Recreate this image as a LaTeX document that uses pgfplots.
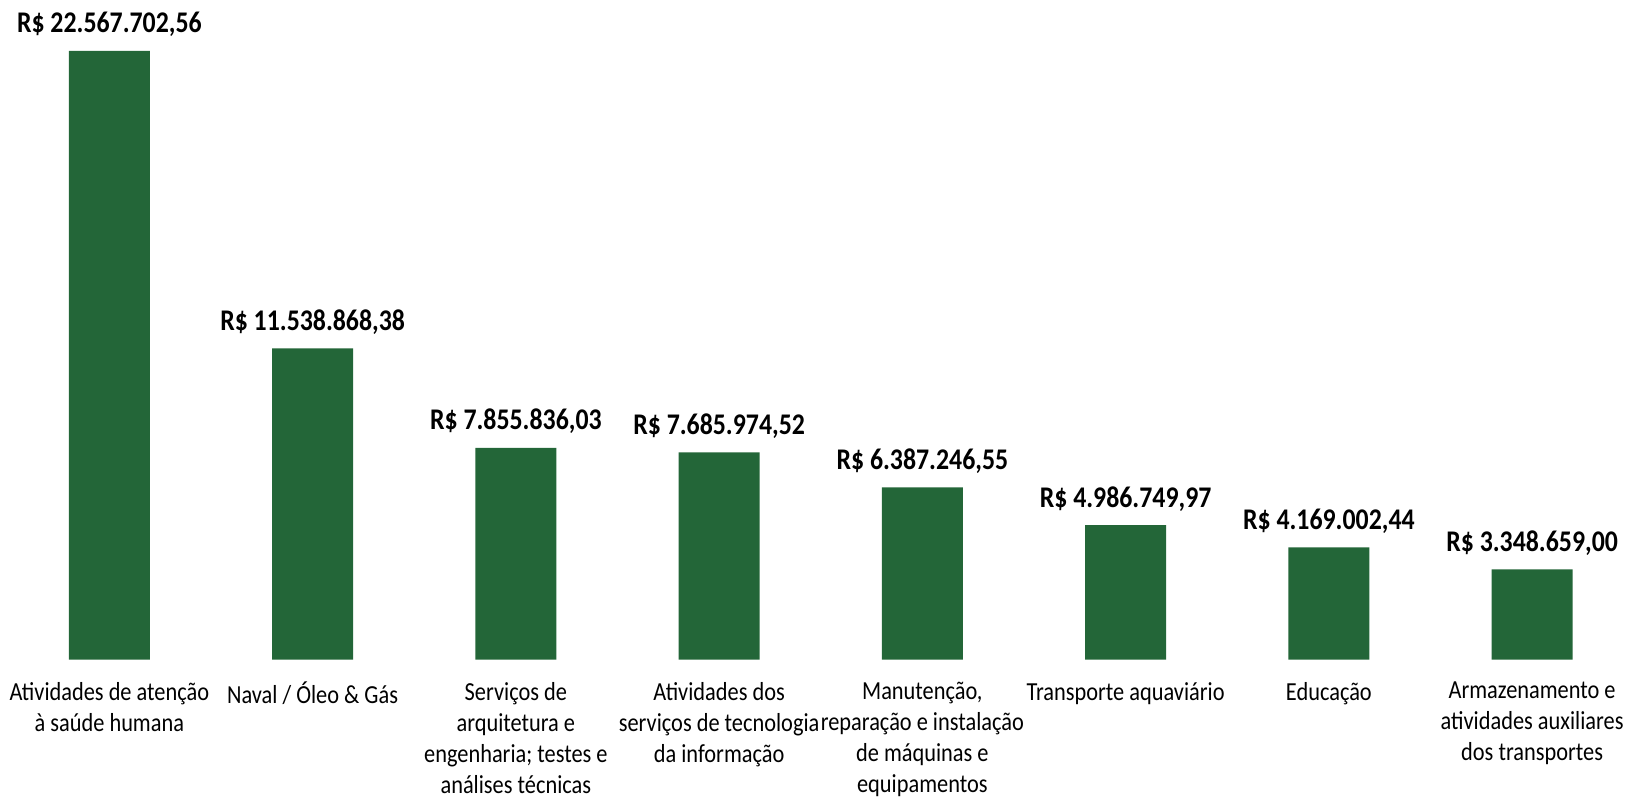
\documentclass[border=0pt]{standalone}
\usepackage{pgfplots}
\pgfplotsset{compat=1.18}
\usepackage{fontspec}
\setmainfont{Carlito}[FakeStretch=0.86]
\definecolor{barverde}{RGB}{35,102,56}

\begin{document}
\begin{tikzpicture}
\begin{axis}[
  width=813pt, height=329.75pt, scale only axis,
  xmin=-0.538, xmax=7.462, ymin=0, ymax=24450000,
  ybar, bar width=40.5pt,
  axis line style={draw=none},
  major tick length=0pt,
  ytick=\empty,
  xtick=data,
  xticklabels={
    {Atividades de atenção\\à saúde humana},
    {Naval / Óleo \& Gás},
    {Serviços de\\arquitetura e\\engenharia; testes e\\análises técnicas},
    {Atividades dos\\serviços de tecnologia\\da informação},
    {Manutenção,\\reparação e instalação\\de máquinas e\\equipamentos},
    {Transporte aquaviário},
    {Educação},
    {Armazenamento e\\atividades auxiliares\\dos transportes}},
  x tick label style={font=\fontsize{13}{15.5}\selectfont, align=center,
    anchor=north, inner sep=0pt, yshift=-11pt},
  clip=false,
  point meta=explicit symbolic,
  nodes near coords,
  every node near coord/.append style={font=\bfseries\fontsize{15}{18}\selectfont,
    text=black, anchor=base, inner sep=0pt, yshift=9pt},
]
\addplot[fill=barverde, draw=none] coordinates {
  (0,22567702.56) [R\$ 22.567.702,56]
  (1,11538868.38) [R\$ 11.538.868,38]
  (2,7855836.03)  [R\$ 7.855.836,03]
  (3,7685974.52)  [R\$ 7.685.974,52]
  (4,6387246.55)  [R\$ 6.387.246,55]
  (5,4986749.97)  [R\$ 4.986.749,97]
  (6,4169002.44)  [R\$ 4.169.002,44]
  (7,3348659.00)  [R\$ 3.348.659,00]
};
\end{axis}
\end{tikzpicture}
\end{document}
